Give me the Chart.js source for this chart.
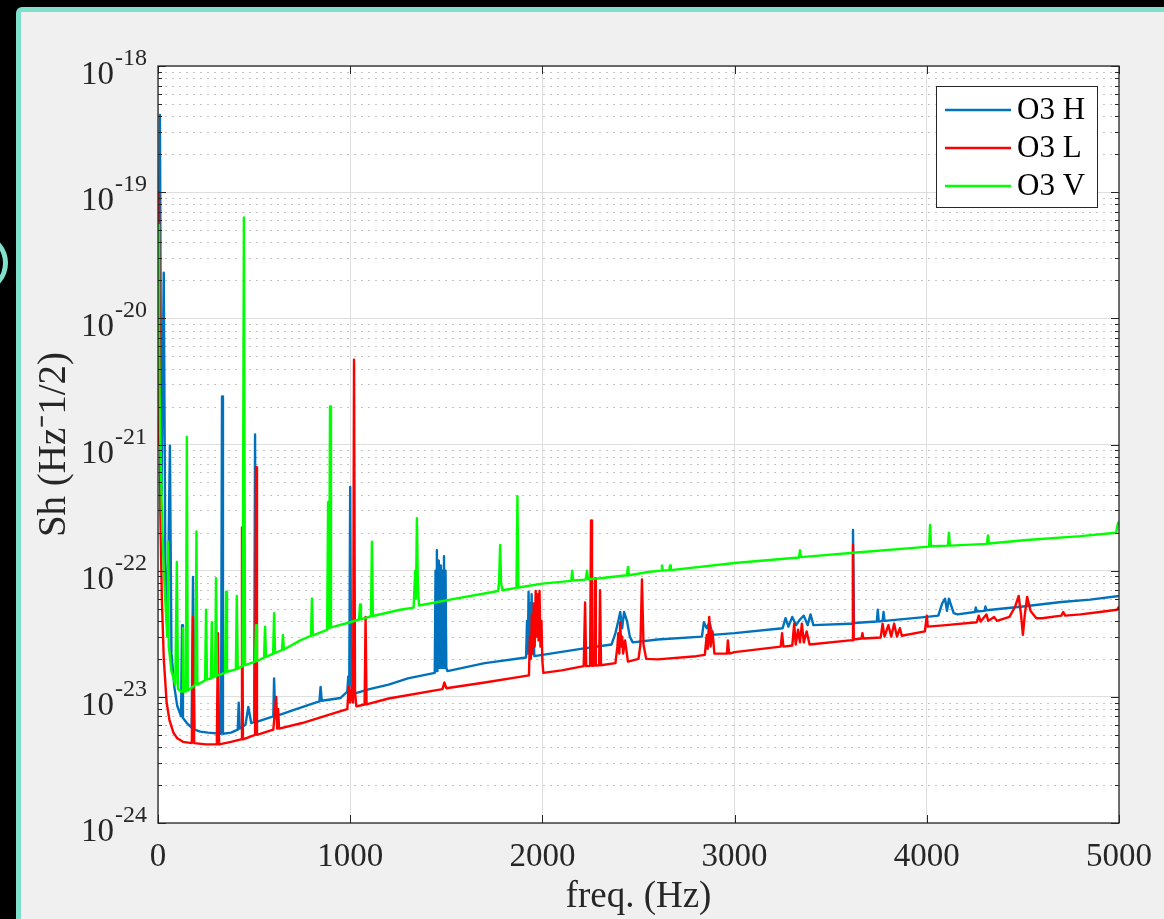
<!DOCTYPE html>
<html>
<head>
<meta charset="utf-8">
<script src="https://cdn.jsdelivr.net/npm/chart.js@4.4.1/dist/chart.umd.min.js"></script>
<style>
html,body{margin:0;padding:0;background:#000;width:1164px;height:919px;overflow:hidden;}
#ring{position:absolute;left:-38px;top:236px;width:36px;height:44px;border:5px solid #7fe0cc;border-radius:50%;}
#panel{position:absolute;left:16px;top:7px;right:0;bottom:0;background:#f0f0f0;border-left:5px solid #7fe0cc;border-top:5px solid #7fe0cc;border-top-left-radius:6px;}
#wrap{position:absolute;left:21px;top:12px;width:1143px;height:907px;}
</style>
</head>
<body>
<div id="ring"></div>
<div id="panel"></div>
<div id="wrap"><canvas id="c"></canvas></div>
<script>
// ---------- data (frequency in Hz, amplitude spectral density) ----------
const SERIES_LABELS = ['O3 H', 'O3 L', 'O3 V'];
const SERIES_COLORS = ['#0072BD', '#FF0000', '#00FF00'];
const X_TICKS = [0, 1000, 2000, 3000, 4000, 5000];
const Y_DECADES = [-24, -23, -22, -21, -20, -19, -18];

const O3_H = [
[0,3e-21],[10,4.1e-19],[18,4e-22],[30,2.3e-20],[38,1.2e-22],[50,4e-23],[62,9.8e-22],[70,2.2e-23],
[85,1.2e-23],[100,8.5e-24],[120,7e-24],[125,3.7e-23],[130,6.8e-24],[150,6.2e-24],[175,5.7e-24],
[182,8.9e-23],[190,5.5e-24],[220,5.3e-24],[260,5.2e-24],[328,5.1e-24],[333,2.4e-21],[338,5.1e-24],
[380,5.2e-24],[415,5.5e-24],[420,9e-24],[425,5.6e-24],[455,6e-24],[470,8.3e-24],[485,6.2e-24],
[500,6.3e-24],[505,1.2e-21],[510,6.3e-24],[560,6.7e-24],[600,7e-24],[604,1.4e-23],[610,7e-24],
[700,7.8e-24],[800,8.8e-24],[840,9.2e-24],[846,1.2e-23],[852,9.3e-24],[950,9.8e-24],[985,1.1e-23],
[990,1.45e-23],[995,1.2e-23],[1000,4.6e-22],[1005,1.4e-23],[1012,1.05e-23],[1100,1.15e-23],
[1200,1.25e-23],[1300,1.4e-23],[1440,1.55e-23],[1444,1.0e-22],[1447,1.6e-23],[1451,1.45e-22],
[1454,1.6e-23],[1458,1.2e-22],[1461,1.7e-23],[1465,1.0e-22],[1468,1.7e-23],[1472,1.1e-22],
[1476,1.7e-23],[1480,1.0e-22],[1484,1.7e-23],[1488,1.3e-22],[1492,1.7e-23],[1496,1.0e-22],
[1500,1.7e-23],[1506,1.6e-23],[1700,1.85e-23],[1915,2.05e-23],[1920,4e-23],[1924,2.2e-23],
[1928,6.8e-23],[1932,2.5e-23],[1936,5.5e-23],[1940,2.3e-23],[1944,6.5e-23],[1948,2.4e-23],
[1952,4e-23],[1958,2.1e-23],[2000,2.15e-23],[2200,2.4e-23],[2360,2.6e-23],[2380,3.2e-23],
[2395,4.0e-23],[2405,4.7e-23],[2415,3.5e-23],[2425,4.7e-23],[2440,4.0e-23],[2455,3.0e-23],
[2470,2.7e-23],[2600,2.85e-23],[2830,3.0e-23],[2840,3.9e-23],[2855,3.5e-23],[2870,3.9e-23],
[2885,3.1e-23],[3000,3.2e-23],[3250,3.5e-23],[3265,4.2e-23],[3280,3.6e-23],[3300,4.3e-23],
[3320,3.7e-23],[3340,4.1e-23],[3360,4.4e-23],[3380,3.7e-23],[3395,4.5e-23],[3410,3.7e-23],
[3600,3.8e-23],[3612,3.8e-23],[3616,2.1e-22],[3621,3.85e-23],[3740,3.95e-23],[3745,4.9e-23],
[3750,3.95e-23],[3770,4.0e-23],[3775,4.7e-23],[3780,4.0e-23],[4000,4.3e-23],[4060,4.4e-23],
[4080,5.5e-23],[4095,6.0e-23],[4105,4.8e-23],[4115,6.0e-23],[4140,4.6e-23],[4160,4.5e-23],
[4250,4.7e-23],[4255,5.1e-23],[4260,4.75e-23],[4300,4.8e-23],[4305,5.2e-23],[4310,4.85e-23],
[4500,5.2e-23],[4700,5.65e-23],[4850,5.9e-23],[5000,6.3e-23]
];

const O3_L = [
[0,1e-21],[5,1e-19],[12,3e-22],[20,6e-23],[30,2e-23],[45,9e-24],[60,6.5e-24],[80,5.2e-24],
[100,4.7e-24],[130,4.4e-24],[176,4.3e-24],[182,4.3e-23],[188,4.3e-24],[250,4.2e-24],[306,4.2e-24],
[312,3.2e-23],[318,4.2e-24],[380,4.4e-24],[432,4.6e-24],[437,2.2e-22],[442,4.6e-24],[505,5.0e-24],
[510,6.6e-22],[515,5.0e-24],[600,5.5e-24],[615,1.0e-23],[620,5.6e-24],[625,8e-24],[630,5.6e-24],
[750,6.2e-24],[900,7.3e-24],[985,8e-24],[992,1.2e-23],[1000,9e-24],[1008,1.2e-23],[1015,9e-24],
[1020,4.7e-21],[1025,1.1e-23],[1032,8.4e-24],[1075,8.7e-24],[1080,4.3e-23],[1085,8.7e-24],
[1200,9.7e-24],[1480,1.15e-23],[1490,1.3e-23],[1500,1.17e-23],[1700,1.3e-23],[1930,1.48e-23],
[1935,3e-23],[1940,2e-23],[1945,4.5e-23],[1950,2.2e-23],[1955,5.5e-23],[1960,2.5e-23],
[1965,6.9e-23],[1970,3e-23],[1975,6.5e-23],[1980,2.8e-23],[1985,6.9e-23],[1990,2.5e-23],
[1995,4e-23],[2000,1.9e-23],[2005,1.55e-23],[2100,1.62e-23],[2215,1.75e-23],[2222,5.6e-23],
[2228,1.75e-23],[2248,1.76e-23],[2253,2.5e-22],[2258,1.76e-23],[2270,1.77e-23],[2274,8.7e-23],
[2278,1.77e-23],[2295,1.78e-23],[2300,7.0e-23],[2305,1.78e-23],[2380,1.85e-23],[2390,2.5e-23],
[2395,3.2e-23],[2400,2.2e-23],[2405,3.9e-23],[2410,2.5e-23],[2415,3.0e-23],[2420,2.2e-23],
[2430,2.8e-23],[2445,1.9e-23],[2500,2.0e-23],[2510,2.6e-23],[2518,8.5e-23],[2526,2.6e-23],
[2540,2.0e-23],[2600,1.98e-23],[2800,2.1e-23],[2845,2.15e-23],[2855,3.1e-23],[2860,2.4e-23],
[2868,4.3e-23],[2875,2.5e-23],[2885,3.3e-23],[2895,2.2e-23],[2960,2.2e-23],[2965,2.8e-23],
[2972,2.2e-23],[3000,2.26e-23],[3240,2.5e-23],[3247,3.2e-23],[3254,2.5e-23],[3300,2.55e-23],
[3310,3.8e-23],[3318,2.6e-23],[3330,3.4e-23],[3340,2.7e-23],[3350,3.8e-23],[3360,2.7e-23],
[3375,3.3e-23],[3390,2.6e-23],[3600,2.8e-23],[3613,2.8e-23],[3616,1.6e-22],[3620,2.85e-23],
[3660,2.9e-23],[3665,3.2e-23],[3670,2.9e-23],[3760,2.95e-23],[3770,3.8e-23],[3780,3.0e-23],
[3800,3.7e-23],[3815,3.0e-23],[3830,3.8e-23],[3845,3.0e-23],[3860,3.5e-23],[3870,3.05e-23],
[3990,3.3e-23],[4000,4.4e-23],[4005,3.6e-23],[4100,3.7e-23],[4260,3.9e-23],[4270,4.4e-23],
[4280,3.95e-23],[4310,4.5e-23],[4320,4.0e-23],[4350,4.3e-23],[4365,4.0e-23],[4430,4.3e-23],
[4460,5.2e-23],[4478,6.3e-23],[4490,4.5e-23],[4500,3.1e-23],[4510,4.5e-23],[4522,6.2e-23],
[4540,4.8e-23],[4570,4.2e-23],[4600,4.2e-23],[4700,4.4e-23],[4710,4.7e-23],[4720,4.4e-23],
[4800,4.5e-23],[4900,4.7e-23],[4990,4.9e-23],[5000,5.2e-23]
];

const O3_V = [
[0,5.5e-20],[5,8e-21],[10,1.5e-21],[20,3e-22],[30,1e-22],[40,5e-23],[48,3e-23],[52,1.7e-22],
[56,2.5e-23],[70,1.6e-23],[90,1.25e-23],[98,1.17e-22],[104,1.15e-23],[120,1.1e-23],[128,1.1e-23],
[130,3.5e-23],[133,1.1e-23],[145,1.1e-23],[150,1.15e-21],[155,1.12e-23],[175,1.18e-23],
[195,1.25e-23],[200,2.05e-22],[205,1.25e-23],[245,1.35e-23],[250,4.9e-23],[255,1.37e-23],
[275,1.4e-23],[280,3.9e-23],[285,1.42e-23],[297,1.45e-23],[302,8.7e-23],[307,1.47e-23],
[349,1.55e-23],[354,6.8e-23],[359,1.58e-23],[405,1.65e-23],[410,6.3e-23],[415,1.67e-23],
[440,1.75e-23],[447,6.3e-20],[453,1.78e-23],[505,1.9e-23],[510,3.7e-23],[515,1.92e-23],
[552,2.05e-23],[557,3.6e-23],[562,2.07e-23],[599,2.2e-23],[604,4.6e-23],[609,2.22e-23],
[645,2.35e-23],[650,3.1e-23],[655,2.37e-23],[740,2.8e-23],[796,3.05e-23],[801,6.0e-23],
[806,3.07e-23],[880,3.4e-23],[885,3.5e-22],[890,3.5e-23],[895,2.0e-21],[900,3.55e-23],
[1000,3.9e-23],[1046,4.1e-23],[1051,5.4e-23],[1056,4.12e-23],[1108,4.35e-23],[1113,1.7e-22],
[1118,4.37e-23],[1260,4.9e-23],[1330,5.1e-23],[1338,1.0e-22],[1342,6e-23],[1347,2.6e-22],
[1352,8e-23],[1358,5.3e-23],[1520,5.9e-23],[1770,6.9e-23],[1775,8.5e-23],[1780,1.6e-22],
[1785,8e-23],[1792,7.0e-23],[1865,7.3e-23],[1870,3.9e-22],[1875,7.35e-23],[2000,7.9e-23],
[2150,8.3e-23],[2155,1.0e-22],[2160,8.35e-23],[2225,8.5e-23],[2232,1.0e-22],[2238,8.55e-23],
[2300,8.7e-23],[2440,9.2e-23],[2445,1.07e-22],[2450,9.2e-23],[2560,9.8e-23],[2618,1.0e-22],
[2622,1.1e-22],[2626,1.0e-22],[2660,1.01e-22],[2664,1.1e-22],[2668,1.01e-22],[3000,1.15e-22],
[3335,1.27e-22],[3340,1.45e-22],[3345,1.28e-22],[3650,1.4e-22],[4012,1.55e-22],[4017,2.3e-22],
[4022,1.56e-22],[4110,1.58e-22],[4115,2.0e-22],[4120,1.58e-22],[4313,1.63e-22],[4318,1.9e-22],
[4323,1.64e-22],[4520,1.75e-22],[4800,1.88e-22],[4985,2.0e-22],[4995,2.4e-22],[5000,2.3e-22]
];

const SERIES = [O3_H, O3_L, O3_V];

// ---------- helpers ----------
const isPow10 = v => { const l = Math.log10(v); return Math.abs(l - Math.round(l)) < 1e-6; };
const AXIS_COLOR = '#262626';
const FONT = 'Liberation Serif, Times New Roman, serif';

// ---------- plugin: white plot area, minor grid, box, inner ticks, power-of-ten labels, legend ----------
const matlabStyle = {
  id: 'matlabStyle',
  beforeDraw(chart) {
    const {ctx, chartArea: a} = chart;
    ctx.save();
    ctx.fillStyle = '#ffffff';
    ctx.fillRect(a.left, a.top, a.right - a.left, a.bottom - a.top);
    ctx.restore();
  },
  beforeDatasetsDraw(chart) {
    const {ctx, chartArea: a} = chart;
    const y = chart.scales.y;
    ctx.save();
    ctx.strokeStyle = '#c4c4c4';
    ctx.lineWidth = 1;
    ctx.setLineDash([2, 5]);
    y.ticks.forEach(t => {
      if (isPow10(t.value)) return;
      const py = Math.round(y.getPixelForValue(t.value)) + 0.5;
      ctx.beginPath(); ctx.moveTo(a.left, py); ctx.lineTo(a.right, py); ctx.stroke();
    });
    ctx.restore();
  },
  afterDatasetsDraw(chart) {
    const {ctx, chartArea: a} = chart;
    const x = chart.scales.x, y = chart.scales.y;
    ctx.save();
    ctx.strokeStyle = AXIS_COLOR;
    ctx.lineWidth = 1;
    // inner tick marks
    ctx.beginPath();
    y.ticks.forEach(t => {
      const py = Math.round(y.getPixelForValue(t.value)) + 0.5;
      const len = isPow10(t.value) ? 8 : 4;
      ctx.moveTo(a.left, py); ctx.lineTo(a.left + len, py);
      ctx.moveTo(a.right, py); ctx.lineTo(a.right - len, py);
    });
    x.ticks.forEach(t => {
      const px = Math.round(x.getPixelForValue(t.value)) + 0.5;
      ctx.moveTo(px, a.bottom); ctx.lineTo(px, a.bottom - 8);
      ctx.moveTo(px, a.top); ctx.lineTo(px, a.top + 8);
    });
    ctx.stroke();
    // axes box
    ctx.lineWidth = 1.3;
    ctx.strokeRect(a.left, a.top, a.right - a.left, a.bottom - a.top);
    // y tick labels: 10 with raised exponent
    ctx.fillStyle = AXIS_COLOR;
    ctx.textBaseline = 'alphabetic';
    ctx.textAlign = 'left';
    const xr = a.left - 11;
    y.ticks.forEach(t => {
      if (!isPow10(t.value)) return;
      const py = y.getPixelForValue(t.value);
      const expText = String(Math.round(Math.log10(t.value)));
      ctx.font = '24px ' + FONT;
      const wE = ctx.measureText(expText).width;
      ctx.font = '33px ' + FONT;
      const wB = ctx.measureText('10').width;
      ctx.fillText('10', xr - wE - 1 - wB, py + 18);
      ctx.font = '24px ' + FONT;
      ctx.fillText(expText, xr - wE, py - 1);
    });
    // legend box
    const w = 161, h = 121;
    const lx = a.right - 22 - w, ly = a.top + 20;
    ctx.fillStyle = '#ffffff';
    ctx.fillRect(lx, ly, w, h);
    ctx.lineWidth = 1;
    ctx.strokeStyle = AXIS_COLOR;
    ctx.strokeRect(lx + 0.5, ly + 0.5, w, h);
    ctx.font = '31px ' + FONT;
    ctx.textBaseline = 'middle';
    ctx.textAlign = 'left';
    chart.data.datasets.forEach((ds, i) => {
      const cy = ly + 24 + i * 38;
      ctx.strokeStyle = ds.borderColor;
      ctx.lineWidth = 2.5;
      ctx.beginPath(); ctx.moveTo(lx + 9, cy); ctx.lineTo(lx + 75, cy); ctx.stroke();
      ctx.fillStyle = '#000000';
      ctx.fillText(ds.label, lx + 81, cy + 1);
    });
    ctx.restore();
  }
};

const datasets = SERIES.map((s, i) => ({
  label: SERIES_LABELS[i],
  data: s.map(p => ({x: p[0], y: p[1]})),
  borderColor: SERIES_COLORS[i],
  backgroundColor: SERIES_COLORS[i],
  borderWidth: 2.4,
  pointRadius: 0,
  tension: 0,
  fill: false,
  borderJoinStyle: 'round',
  order: SERIES.length - 1 - i
}));

new Chart(document.getElementById('c'), {
  type: 'line',
  data: {datasets},
  plugins: [matlabStyle],
  options: {
    responsive: true,
    maintainAspectRatio: false,
    animation: false,
    layout: {padding: {top: 54, right: 45, left: 0, bottom: 0}},
    plugins: {legend: {display: false}, tooltip: {enabled: false}},
    scales: {
      x: {
        type: 'linear',
        min: X_TICKS[0],
        max: X_TICKS[X_TICKS.length - 1],
        afterFit(scale) { scale.height = 96; scale.paddingLeft = 0; scale.paddingRight = 0; },
        afterBuildTicks(scale) { scale.ticks = X_TICKS.map(v => ({value: v})); },
        ticks: {
          font: {family: FONT, size: 33},
          color: AXIS_COLOR,
          padding: 15,
          maxRotation: 0,
          autoSkip: false,
          callback: v => String(v)
        },
        grid: {color: '#dedede', lineWidth: 1, drawTicks: false},
        border: {display: false},
        title: {display: true, text: 'freq. (Hz)', color: AXIS_COLOR, font: {family: FONT, size: 37}, padding: {top: 0, bottom: 0}}
      },
      y: {
        type: 'logarithmic',
        min: Math.pow(10, Y_DECADES[0]),
        max: Math.pow(10, Y_DECADES[Y_DECADES.length - 1]),
        afterFit(scale) { scale.width = 137; scale.paddingTop = 0; scale.paddingBottom = 0; },
        afterBuildTicks(scale) {
          const t = [];
          for (let k = 0; k < Y_DECADES.length - 1; k++) {
            for (let s = 1; s <= 9; s++) t.push({value: s * Math.pow(10, Y_DECADES[k])});
          }
          t.push({value: Math.pow(10, Y_DECADES[Y_DECADES.length - 1])});
          scale.ticks = t;
        },
        ticks: {display: false, autoSkip: false},
        grid: {
          color: c => (c.tick && isPow10(c.tick.value)) ? '#dedede' : 'rgba(0,0,0,0)',
          lineWidth: 1,
          drawTicks: false
        },
        border: {display: false},
        title: {display: true, text: 'Sh (Hz\u207B1/2)', color: AXIS_COLOR, font: {family: FONT, size: 39}, padding: {top: 10, bottom: 0}}
      }
    }
  }
});
</script>
</body>
</html>
